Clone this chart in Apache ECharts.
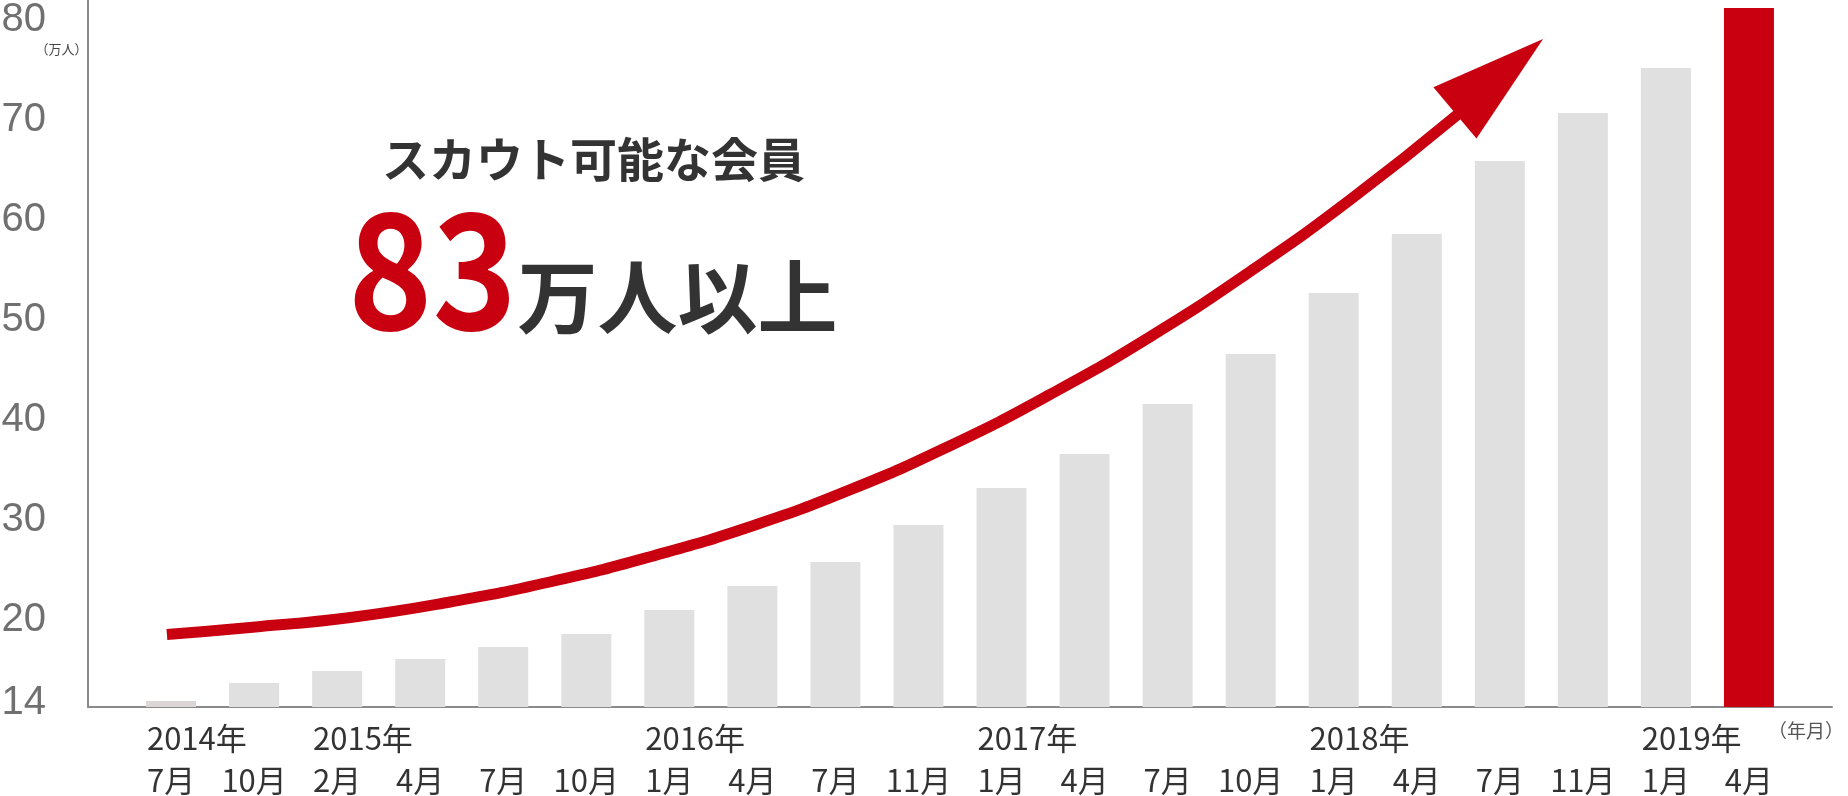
<!DOCTYPE html>
<html>
<head>
<meta charset="utf-8">
<script src="https://cdn.jsdelivr.net/npm/echarts@6/dist/echarts.min.js"></script>
<style>
  html, body { margin: 0; padding: 0; background: #fff; }
  #chart { width: 1848px; height: 796px; }
</style>
</head>
<body>
<div id="chart"></div>
<script>
// 年・月ラベル
const years = ['2014年', '', '2015年', '', '', '', '2016年', '', '', '', '2017年', '', '', '', '2018年', '', '', '', '2019年', ''];
const months = ['7月', '10月', '2月', '4月', '7月', '10月', '1月', '4月', '7月', '11月', '1月', '4月', '7月', '10月', '1月', '4月', '7月', '11月', '1月', '4月'];
// スカウト可能な会員数（万人）
const members = [14.6, 16.4, 17.6, 18.8, 20.0, 21.3, 23.7, 26.1, 28.5, 32.2, 35.9, 39.3, 44.3, 49.3, 55.4, 61.3, 68.6, 73.4, 77.9, 83.9];
const yTicks = [14, 20, 30, 40, 50, 60, 70, 80];
// 矢印（x: カテゴリ位置, y: 万人）
const arrowX = [0.95, 1.95, 3.16, 4.36, 5.56, 6.77, 7.97, 9.18, 10.38, 11.58, 12.79, 13.99, 15.2, 16.5];
const arrowY = [21.25, 21.95, 22.95, 24.5, 26.5, 29.03, 32.03, 35.73, 40.13, 45.23, 51.03, 57.53, 64.73, 73.3];
const arrowHead = [16.99, 77.1];

const RED = '#c8000f';
const JP = '"Noto Sans CJK JP", sans-serif';

const chart = echarts.init(document.getElementById('chart'), null, { renderer: 'canvas' });

const categories = ['', ...years.map((y, i) => y + months[i]), ''];
const barData = ['-', ...members.map((v, i) => ({
  value: v,
  itemStyle: { color: i === members.length - 1 ? RED : (i === 0 ? '#dcd7d5' : '#e0e0e0') },
})), '-'];

const option = {
  animation: false,
  backgroundColor: '#fff',
  grid: { left: 88, right: 16, top: 0, bottom: 89, outerBoundsMode: 'none' },
  xAxis: [
    {
      type: 'category',
      data: categories,
      boundaryGap: false,
      axisLine: { show: true, onZero: false, lineStyle: { color: '#8a8a8a', width: 2 } },
      axisTick: { show: false },
      splitLine: { show: false },
      axisLabel: {
        interval: 0,
        margin: 10,
        color: '#333',
        fontFamily: JP,
        fontSize: 31,
        lineHeight: 42,
        formatter: (value, index) => {
          const i = index - 1;
          if (i < 0 || i >= months.length) return '';
          return '{y|' + (years[i] || ' ') + '}\n{m|' + months[i] + '}';
        },
        rich: {
          y: { width: 47, align: 'left', fontSize: 31, lineHeight: 42, color: '#333', fontFamily: JP },
          m: { fontSize: 31, lineHeight: 42, color: '#333', fontFamily: JP },
        },
      },
    },
    // 矢印用の見えない軸
    { type: 'value', min: 0, max: 21, show: false },
  ],
  yAxis: {
    type: 'value',
    min: 14,
    max: 84.7,
    axisLine: { show: true, lineStyle: { color: '#8a8a8a', width: 2 } },
    axisTick: { show: false },
    splitLine: { show: false },
    axisLabel: {
      customValues: yTicks,
      margin: 42,
      color: '#707070',
      fontFamily: 'Liberation Sans',
      fontSize: 40,
      formatter: (v) => (v === 14 ? '{b|14}' : '{a|' + v + '}'),
      rich: {
        a: { fontSize: 40, color: '#707070', fontFamily: 'Liberation Sans', padding: [0, 0, 54, 0] },
        b: { fontSize: 40, color: '#707070', fontFamily: 'Liberation Sans', padding: [0, 0, 8, 0] },
      },
    },
  },
  series: [
    {
      type: 'bar',
      barWidth: 50,
      data: barData,
      silent: true,
    },
    {
      type: 'line',
      xAxisIndex: 1,
      data: arrowX.map((x, i) => [x, arrowY[i]]),
      smooth: 0.5,
      symbol: 'none',
      lineStyle: { color: RED, width: 11, cap: 'butt' },
      silent: true,
      z: 3,
    },
    {
      type: 'scatter',
      xAxisIndex: 1,
      data: [arrowHead],
      symbol: 'triangle',
      symbolSize: [67, 115],
      symbolRotate: -50,
      itemStyle: { color: RED, opacity: 1 },
      silent: true,
      z: 4,
    },
  ],
  graphic: [
    {
      type: 'text', x: 61.5, y: 49,
      style: { text: '（万人）', font: '13px ' + JP, fill: '#444', align: 'center', verticalAlign: 'middle' },
    },
    {
      type: 'text', x: 1806, y: 731,
      style: { text: '（年月）', font: '19px ' + JP, fill: '#555', align: 'center', verticalAlign: 'middle' },
    },
    {
      type: 'text', x: 593.5, y: 159,
      style: { text: 'スカウト可能な会員', font: 'bold 47px ' + JP, fill: '#333', align: 'center', verticalAlign: 'middle' },
    },
    {
      type: 'text', x: 432.5, y: 269, scaleX: 0.89,
      style: { text: '83', font: 'bold 161px ' + JP, fill: RED, align: 'center', verticalAlign: 'middle' },
    },
    {
      type: 'text', x: 677.5, y: 297,
      style: { text: '万人以上', font: 'bold 80px ' + JP, fill: '#333', align: 'center', verticalAlign: 'middle' },
    },
  ],
};

chart.setOption(option);
</script>
</body>
</html>
